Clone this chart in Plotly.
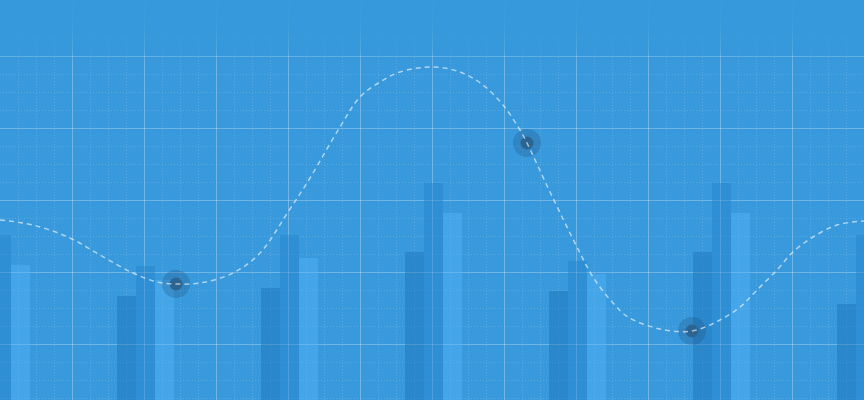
import plotly.graph_objects as go

# background colours
BG = '#3899dc'

# bar groups (x = group centre, y = bar height)
group_x = [1.5, 145.5, 289.5, 433.5, 577.5, 721.5, 865.5]
dark_vals = [110, 104, 112, 148, 109, 148, 96]
mid_vals = [165, 134, 165, 217, 139, 217, 165]
light_vals = [135, 120, 142, 187, 126, 187, 140]

# dashed curve
curve_x = [0, 33, 70, 100, 133, 157, 176, 200, 233, 260, 288, 310, 340, 360,
           380, 400, 432, 460, 483, 503, 520, 527, 550, 577, 593, 613, 628,
           660, 692, 720, 740, 757, 777, 793, 813, 837, 864]
curve_y = [180, 175, 162, 145, 127, 118, 116, 117, 127, 147, 188, 222, 273,
           303, 318, 328, 333, 328, 315, 295, 270, 257, 208, 153, 123, 97,
           83, 71, 69, 80, 93, 110, 130, 148, 163, 175, 179]

# highlighted points
point_x = [176, 527, 692]
point_y = [116, 257, 69]

fig = go.Figure()

bar_sets = [
    (dark_vals, -28.5, 'rgba(27,113,184,0.45)'),
    (mid_vals, -9.5, 'rgba(36,131,202,0.45)'),
    (light_vals, 9.5, 'rgba(85,180,247,0.45)'),
]
for vals, off, col in bar_sets:
    fig.add_trace(go.Bar(
        x=group_x, y=vals, width=19, offset=off,
        marker=dict(color=col, line=dict(width=0)),
        hoverinfo='skip', showlegend=False
    ))

# halo + dot
fig.add_trace(go.Scatter(
    x=point_x, y=point_y, mode='markers',
    marker=dict(size=28, color='rgba(25,65,105,0.22)', line=dict(width=0)),
    hoverinfo='skip', showlegend=False
))
fig.add_trace(go.Scatter(
    x=point_x, y=point_y, mode='markers',
    marker=dict(size=13, color='#2c6592', line=dict(width=0)),
    hoverinfo='skip', showlegend=False
))

fig.add_trace(go.Scatter(
    x=curve_x, y=curve_y, mode='lines',
    line=dict(color='rgba(255,255,255,0.6)', width=1.5, dash='5px,4px',
              shape='spline', smoothing=1),
    hoverinfo='skip', showlegend=False
))

# fade the grid out towards the top
shapes = []
for i in range(1, 13):
    shapes.append(dict(
        type='rect', xref='paper', yref='paper',
        x0=0, x1=1, y0=1 - i * 0.0125, y1=1,
        fillcolor=BG, opacity=0.22, line=dict(width=0), layer='above'
    ))

axis_common = dict(
    showgrid=True, gridcolor='rgba(255,255,255,0.28)', gridwidth=1,
    zeroline=False, showticklabels=False, ticks='', showline=False,
    fixedrange=True,
)
minor_common = dict(showgrid=True, griddash='1px,2px',
                    gridcolor='rgba(255,255,255,0.16)', gridwidth=1)

fig.update_layout(
    width=864, height=400,
    margin=dict(l=0, r=0, t=0, b=0),
    paper_bgcolor=BG, plot_bgcolor=BG,
    barmode='overlay',
    shapes=shapes,
    xaxis=dict(range=[0, 864], tick0=0, dtick=72,
               minor=dict(tick0=0, dtick=18, **minor_common),
               **axis_common),
    yaxis=dict(range=[0, 400], tick0=56, dtick=72,
               minor=dict(tick0=56, dtick=18, **minor_common),
               **axis_common),
)

# drop the default page margin so the chart fills the window
fig.write_html("out.html", config={'displayModeBar': False},
               post_script="document.body.style.margin='0';")
